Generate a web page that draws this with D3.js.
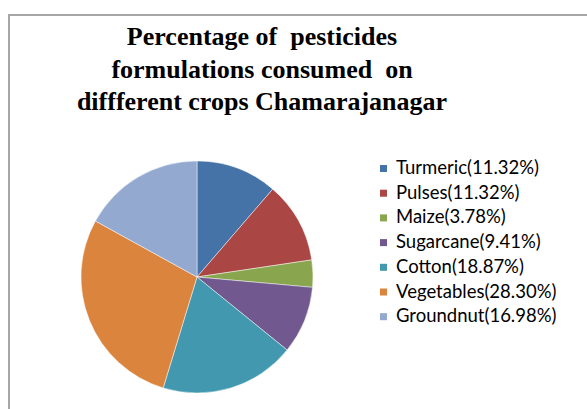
<!DOCTYPE html>
<html><head><meta charset="utf-8">
<script src="https://cdn.jsdelivr.net/npm/d3@7/dist/d3.min.js"></script>
<style>body{margin:0;background:#fff;} svg{display:block;} text{white-space:pre;}</style>
</head><body>
<svg id="c" width="587" height="409"></svg>
<script>
const categories = ["Turmeric","Pulses","Maize","Sugarcane","Cotton","Vegetables","Groundnut"];
const values = [11.32, 11.32, 3.78, 9.41, 18.87, 28.30, 16.98];
const labels = ["11.32%","11.32%","3.78%","9.41%","18.87%","28.30%","16.98%"];
const colors = ["#4572A7","#AA4643","#89A54E","#71588F","#4198AF","#DB843D","#93A9CF"];
const titleLines = ["Percentage of  pesticides","formulations consumed  on","diffferent crops Chamarajanagar"];

const svg = d3.select("#c");
// frame
svg.append("path").attr("d","M9,409 V15 H587").attr("fill","none").attr("stroke","#a6a6a6").attr("stroke-width",2);

// title
const t = svg.append("text").attr("font-family","'Liberation Serif','Times New Roman',serif")
  .attr("font-weight","bold").attr("font-size",26).attr("fill","#000").attr("text-anchor","middle");
titleLines.forEach((l,i)=>t.append("tspan").attr("x",262).attr("y",45+i*32.5).text(l));

// pie
const cx=197, cy=277, r=116;
const pie = d3.pie().sort(null).value(d=>d)(values);
const arc = d3.arc().innerRadius(0).outerRadius(r);
const g = svg.append("g").attr("transform",`translate(${cx},${cy})`);
g.selectAll("path").data(pie).join("path").attr("d",arc)
  .attr("fill",(d,i)=>colors[i]).attr("stroke","#fff").attr("stroke-opacity",0.6).attr("stroke-width",0.8);

// legend
const lg = svg.append("g");
const rows = lg.selectAll("g").data(categories).join("g")
  .attr("transform",(d,i)=>`translate(380,${165+i*24.7})`);
rows.append("rect").attr("width",7).attr("height",7).attr("fill",(d,i)=>colors[i]);
rows.append("text").attr("x",16).attr("y",9).attr("font-family","Lato,sans-serif")
  .attr("font-size",18.5).attr("fill","#000").text((d,i)=>`${d}(${labels[i]})`);
</script>
</body></html>
